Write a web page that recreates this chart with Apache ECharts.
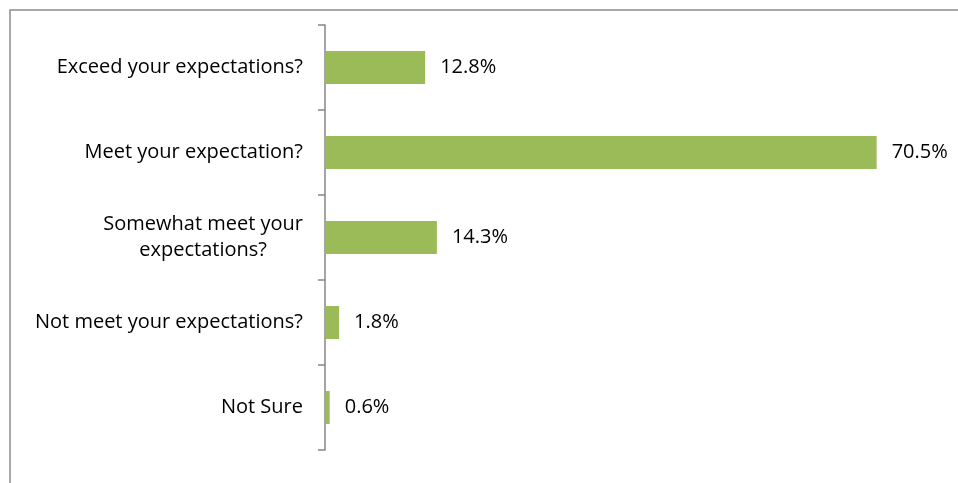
<!DOCTYPE html>
<html>
<head>
<meta charset="utf-8">
<script src="https://cdn.jsdelivr.net/npm/echarts@6/dist/echarts.min.js"></script>
<style>
  html, body { margin: 0; padding: 0; background: #fff; }
  #main { width: 958px; height: 483px; }
</style>
</head>
<body>
<div id="main"></div>
<script>
// answers, top to bottom
var categories = [
  'Exceed your expectations?',
  'Meet your expectation?',
  'Somewhat meet your expectations?',
  'Not meet your expectations?',
  'Not Sure'
];
var percents = [12.8, 70.5, 14.3, 1.8, 0.6];

var FONT = 'Open Sans';
var myChart = echarts.init(document.getElementById('main'));
myChart.setOption({
  animation: false,
  graphic: [{
    type: 'rect',
    shape: { x: 10, y: 10, width: 960, height: 490 },
    style: { fill: 'none', stroke: '#8c8c8c', lineWidth: 1.5 },
    silent: true
  }],
  grid: { left: 325, top: 25, width: 626, height: 425 },
  xAxis: {
    type: 'value',
    min: 0,
    max: 80,
    show: false
  },
  yAxis: {
    type: 'category',
    inverse: true,
    data: categories,
    axisLine: { lineStyle: { color: '#868686', width: 1.5 } },
    axisTick: { show: true, length: 7, lineStyle: { color: '#868686', width: 1.5 } },
    axisLabel: {
      margin: 22,
      color: '#000',
      fontFamily: FONT,
      fontSize: 20,
      formatter: function (v) {
        if (v === 'Somewhat meet your expectations?') {
          return '{a|Somewhat meet your}\n{a|expectations?}';
        }
        return v;
      },
      rich: {
        a: { fontFamily: FONT, fontSize: 20, color: '#000', align: 'center', lineHeight: 26 }
      }
    }
  },
  series: [{
    type: 'bar',
    data: percents,
    barWidth: 33,
    itemStyle: { color: '#9bbb59' },
    label: {
      show: true,
      position: 'right',
      distance: 15,
      color: '#000',
      fontFamily: FONT,
      fontSize: 20,
      formatter: function (p) { return p.value.toFixed(1) + '%'; }
    }
  }]
});
</script>
</body>
</html>
